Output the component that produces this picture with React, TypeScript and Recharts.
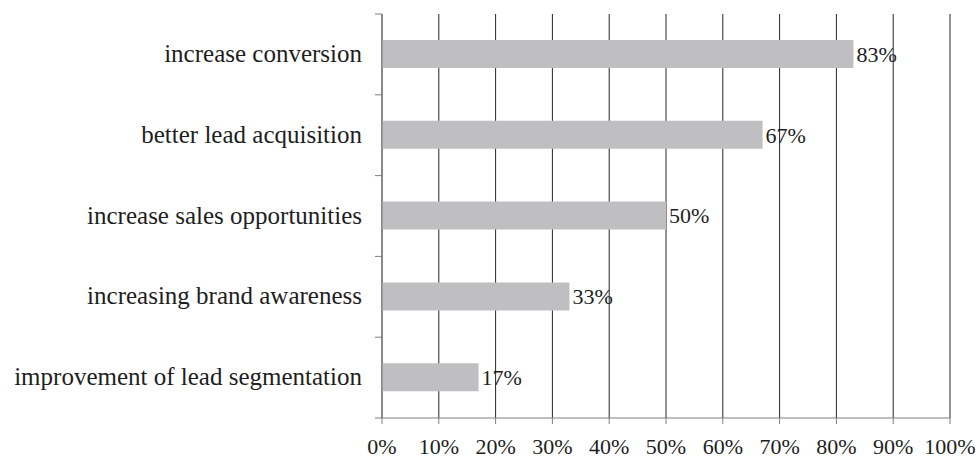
import { BarChart, Bar, XAxis, YAxis, CartesianGrid, LabelList } from "recharts";

const categories = [
  "increase conversion",
  "better lead acquisition",
  "increase sales opportunities",
  "increasing brand awareness",
  "improvement of lead segmentation",
];
const shares = [83, 67, 50, 33, 17];
const xTicks = [0, 10, 20, 30, 40, 50, 60, 70, 80, 90, 100];

const data = categories.map((name, i) => ({ name, value: shares[i] }));

const WIDTH = 980;
const HEIGHT = 458;
const MARGIN = { top: 14, right: 30, bottom: 0, left: 0 };
const Y_AXIS_W = 382;
const X_AXIS_H = 40;
const Y_TICK = 7;
const Y_TICK_MARGIN = 13;
const FONT = '"Liberation Serif", "Times New Roman", serif';
const AXIS = "#7f7f7f";
const GRID = "#262626";
const TEXT = "#1e1e1e";

const band = (HEIGHT - MARGIN.top - MARGIN.bottom - X_AXIS_H) / categories.length;

// category label + tick marks at band boundaries (excel style)
// eslint-disable-next-line @typescript-eslint/no-explicit-any
const CategoryTick = (props: any) => {
  const { x, y, payload, index } = props;
  const axisX = x + Y_TICK + Y_TICK_MARGIN;
  const top = y - band / 2;
  return (
    <g>
      <line x1={axisX - Y_TICK} x2={axisX} y1={top} y2={top} stroke={AXIS} />
      {index === categories.length - 1 && (
        <line x1={axisX - Y_TICK} x2={axisX} y1={top + band} y2={top + band} stroke={AXIS} />
      )}
      <text x={x} y={y} dy="0.3em" textAnchor="end" fill={TEXT} fontSize={25} fontFamily={FONT}>
        {payload.value}
      </text>
    </g>
  );
};

export default function App() {
  return (
    <div style={{ position: "absolute", left: 0, top: 0, background: "#fff" }}>
      <BarChart width={WIDTH} height={HEIGHT} data={data} layout="vertical" margin={MARGIN}>
        <CartesianGrid vertical horizontal={false} stroke={GRID} />
        <XAxis
          type="number"
          domain={[0, 100]}
          ticks={xTicks}
          tickFormatter={(v) => `${v}%`}
          height={X_AXIS_H}
          tickSize={6}
          tickMargin={14}
          stroke={AXIS}
          tick={{ fill: TEXT, fontSize: 22, fontFamily: FONT }}
          interval={0}
        />
        <YAxis
          type="category"
          dataKey="name"
          width={Y_AXIS_W}
          tickSize={Y_TICK}
          tickMargin={Y_TICK_MARGIN}
          tickLine={false}
          stroke={AXIS}
          tick={<CategoryTick />}
          interval={0}
        />
        <Bar dataKey="value" fill="#bfbfc1" barSize={28} isAnimationActive={false}>
          <LabelList
            dataKey="value"
            position="right"
            offset={3}
            formatter={(v: number) => `${v}%`}
            fill={TEXT}
            fontSize={22}
            fontFamily={FONT}
          />
        </Bar>
      </BarChart>
    </div>
  );
}
